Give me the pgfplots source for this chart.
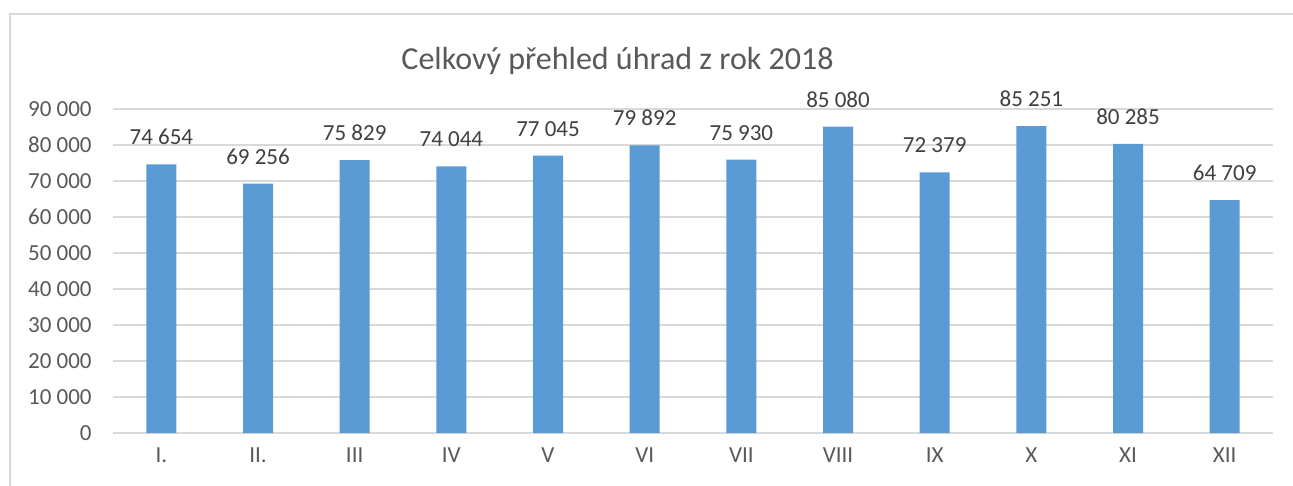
\documentclass[border=0pt]{standalone}
\usepackage{pgfplots}
\pgfplotsset{compat=1.18}
\usepackage{fontspec}
\setmainfont{Carlito}
\definecolor{barblue}{HTML}{5B9BD5}
\definecolor{gridgray}{HTML}{D9D9D9}
\definecolor{txtgray}{HTML}{595959}
\definecolor{lblgray}{HTML}{404040}
\begin{document}
\begin{tikzpicture}
\useasboundingbox (0,0) rectangle (646.5pt,-243pt);
\fill[white] (0,0) rectangle (646.5pt,-243pt);
\draw[gridgray, line width=0.8pt] (5pt,-243pt) -- (5pt,-7pt) -- (646.5pt,-7pt);
\node[text=txtgray, font=\fontsize{16}{19}\selectfont] at (308.75pt,-30.5pt) {Celkový přehled úhrad z rok 2018};
\begin{axis}[
  at={(56.5pt,-216.5pt)}, anchor=south west,
  scale only axis, width=580pt, height=162pt,
  xmin=-0.5, xmax=11.5, ymin=0, ymax=90000,
  ybar, bar width=15pt,
  xtick={0,...,11},
  xticklabels={I.,II.,III,IV,V,VI,VII,VIII,IX,X,XI,XII},
  ytick={0,10000,...,90000},
  scaled y ticks=false,
  ymajorgrids, grid style={gridgray, line width=0.8pt},
  axis line style={draw=none},
  major tick length=0pt,
  tick label style={font=\fontsize{11.5}{13}\selectfont, text=txtgray},
  yticklabel style={anchor=east, inner sep=0pt, xshift=-10.5pt},
  xticklabel style={anchor=north, inner sep=0pt, yshift=-7pt},
  /pgf/number format/1000 sep={\ },
  /pgf/number format/assume math mode=true,
  nodes near coords={\pgfmathprintnumber[fixed,precision=0,1000 sep={\ },assume math mode=true]{\pgfplotspointmeta}},
  nodes near coords style={anchor=south, inner sep=0pt, yshift=9.5pt, text=lblgray, font=\fontsize{11.5}{13}\selectfont},
  clip=false,
]
\addplot[fill=barblue, draw=none] coordinates {
(0,74654) (1,69256) (2,75829) (3,74044) (4,77045) (5,79892)
(6,75930) (7,85080) (8,72379) (9,85251) (10,80285) (11,64709)};
\end{axis}
\end{tikzpicture}
\end{document}
